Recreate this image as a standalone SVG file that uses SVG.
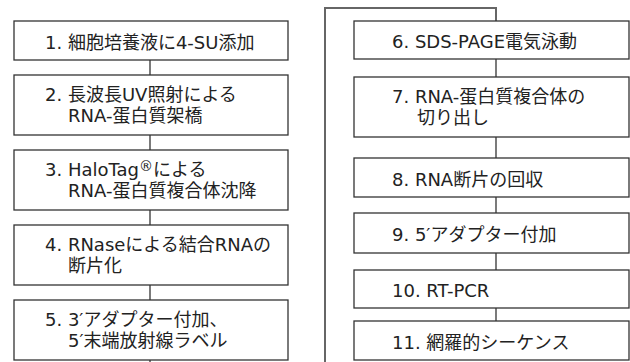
<svg xmlns="http://www.w3.org/2000/svg" width="630" height="362" viewBox="0 0 630 362">
<style>
.box rect{fill:#fff;stroke:#333;stroke-width:1.3}
.box text{font-family:"DejaVu Sans","Noto Sans CJK JP",sans-serif;font-size:18px;fill:#222}
.conn line,.conn polyline{stroke:#333;stroke-width:1.3;fill:none}
.conn .outer{stroke:#666;stroke-width:2}
</style>
<rect width="630" height="362" fill="#fff"/>
<g class="conn">
<line x1="150" y1="60" x2="150" y2="75"/>
<line x1="150" y1="135" x2="150" y2="150"/>
<line x1="150" y1="210" x2="150" y2="225"/>
<line x1="150" y1="285" x2="150" y2="300"/>
<line x1="150" y1="360" x2="150" y2="362"/>
<polyline class="outer" points="325,362 325,8 496,8 496,21"/>
<line x1="496" y1="59" x2="496" y2="77"/>
<line x1="496" y1="137" x2="496" y2="158"/>
<line x1="496" y1="197" x2="496" y2="213"/>
<line x1="496" y1="253" x2="496" y2="270"/>
<line x1="496" y1="308" x2="496" y2="321"/>
</g>
<g class="box" id="n1"><rect x="14" y="21" width="274" height="39"/><text x="45" y="49">1. 細胞培養液に4-SU添加</text></g>
<g class="box" id="n2"><rect x="14" y="75" width="274" height="60"/><text x="45" y="101">2. 長波長UV照射による</text><text x="68" y="122">RNA-蛋白質架橋</text></g>
<g class="box" id="n3"><rect x="14" y="150" width="274" height="60"/><text x="45" y="176">3. HaloTag<tspan font-size="14" dy="-5">®</tspan><tspan dy="5">による</tspan></text><text x="68" y="197">RNA-蛋白質複合体沈降</text></g>
<g class="box" id="n4"><rect x="14" y="225" width="274" height="60"/><text x="45" y="251">4. RNaseによる結合RNAの</text><text x="68" y="272">断片化</text></g>
<g class="box" id="n5"><rect x="14" y="300" width="274" height="60"/><text x="45" y="326">5. 3′アダプター付加、</text><text x="68" y="347">5′末端放射線ラベル</text></g>
<g class="box" id="n6"><rect x="354" y="21" width="275" height="38"/><text x="392" y="48">6. SDS-PAGE電気泳動</text></g>
<g class="box" id="n7"><rect x="354" y="77" width="275" height="60"/><text x="392" y="103">7. RNA-蛋白質複合体の</text><text x="417" y="124">切り出し</text></g>
<g class="box" id="n8"><rect x="354" y="158" width="275" height="39"/><text x="392" y="186">8. RNA断片の回収</text></g>
<g class="box" id="n9"><rect x="354" y="213" width="275" height="40"/><text x="392" y="241">9. 5′アダプター付加</text></g>
<g class="box" id="n10"><rect x="354" y="270" width="275" height="38"/><text x="392" y="297">10. RT-PCR</text></g>
<g class="box" id="n11"><rect x="354" y="321" width="275" height="39"/><text x="392" y="349">11. 網羅的シーケンス</text></g>
</svg>
